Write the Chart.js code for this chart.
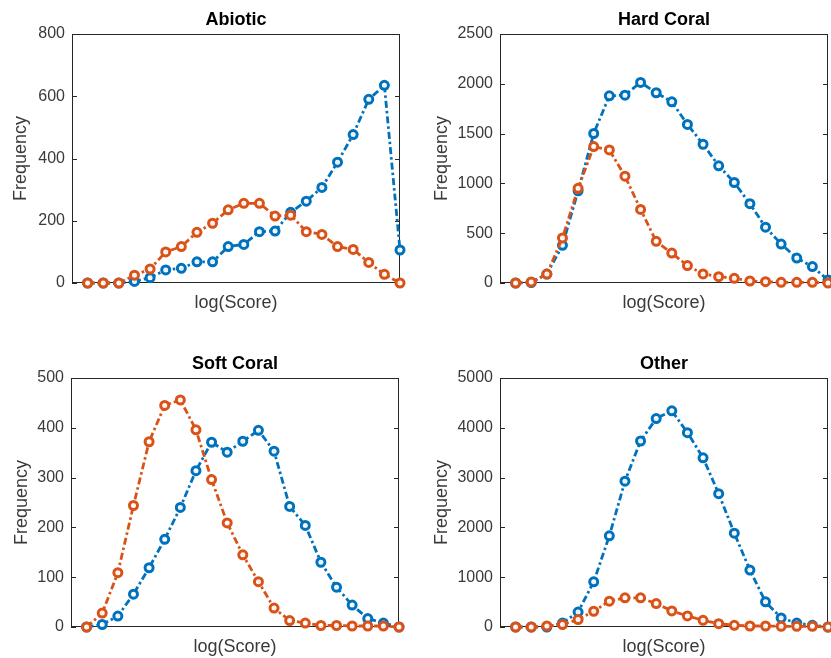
<!DOCTYPE html>
<html>
<head>
<meta charset="utf-8">
<script src="https://cdn.jsdelivr.net/npm/chart.js@4/dist/chart.umd.min.js"></script>
<style>
  html, body { margin: 0; padding: 0; background: #fff; overflow: hidden; width: 831px; height: 658px; }
  .panel { position: absolute; width: 416px; height: 329px; }
</style>
</head>
<body>
<div class="panel" style="left:0px;top:0px"><canvas id="abiotic"></canvas></div>
<div class="panel" style="left:428px;top:0px"><canvas id="hardCoral"></canvas></div>
<div class="panel" style="left:-1px;top:344px"><canvas id="softCoral"></canvas></div>
<div class="panel" style="left:428px;top:344px"><canvas id="other"></canvas></div>
<script>
// histogram bins (log score), shared by all panels
const bins = [0, 1, 2, 3, 4, 5, 6, 7, 8, 9, 10, 11, 12, 13, 14, 15, 16, 17, 18, 19, 20];

const abioticBlue = [0, 0, 0, 5, 17, 42, 47, 68, 68, 117, 124, 165, 167, 227, 263, 307, 388, 477, 590, 635, 106];
const abioticOrange = [0, 0, 0, 25, 45, 100, 117, 163, 192, 235, 256, 256, 215, 218, 165, 156, 117, 108, 66, 28, 0];

const hardBlue = [0, 5, 90, 378, 925, 1501, 1879, 1886, 2014, 1910, 1819, 1592, 1393, 1177, 1009, 796, 560, 391, 250, 165, 30];
const hardOrange = [0, 10, 90, 452, 951, 1370, 1336, 1073, 739, 418, 300, 175, 91, 64, 47, 20, 13, 7, 7, 7, 0];

const softBlue = [0, 5, 22, 66, 119, 176, 240, 314, 371, 351, 373, 395, 353, 242, 204, 130, 80, 44, 17, 8, 0];
const softOrange = [0, 28, 109, 244, 372, 445, 456, 396, 296, 209, 145, 91, 38, 13, 8, 3, 3, 2, 2, 2, 0];

const otherBlue = [0, 0, 0, 80, 300, 908, 1830, 2927, 3735, 4186, 4340, 3903, 3398, 2678, 1884, 1144, 505, 182, 80, 34, 0];
const otherOrange = [0, 0, 20, 50, 150, 316, 518, 585, 585, 471, 323, 222, 135, 67, 34, 20, 20, 13, 13, 13, 0];

const BLUE = 'rgb(0, 114, 189)';
const ORANGE = 'rgb(217, 83, 25)';
const AXIS = '#262626';
const LABEL = '#3a3a3a';
const FONT = 'Liberation Sans, Arial, sans-serif';

// matlab style box with inward y ticks on both sides, title centred on the axes
const framePlugin = {
    id: 'frame',
    beforeDatasetsDraw(chart, args, opts) {
        const { ctx, chartArea: a } = chart;
        const y = chart.scales.y;
        ctx.save();
        ctx.strokeStyle = AXIS;
        ctx.lineWidth = 1;
        ctx.strokeRect(a.left + 0.5, a.top + 0.5, a.right - a.left - 1, a.bottom - a.top - 1);
        ctx.beginPath();
        y.ticks.forEach((t) => {
            const py = Math.round(y.getPixelForValue(t.value)) + 0.5;
            ctx.moveTo(a.left, py);
            ctx.lineTo(a.left + 5, py);
            ctx.moveTo(a.right - 5, py);
            ctx.lineTo(a.right, py);
        });
        ctx.stroke();

        ctx.fillStyle = '#000';
        ctx.font = 'bold 18px ' + FONT;
        ctx.textAlign = 'center';
        ctx.textBaseline = 'middle';
        ctx.fillText(opts.title, (a.left + a.right) / 2, a.top - 14);
        ctx.restore();
    },
};

function series(values, color, order) {
    return {
        data: values,
        borderColor: color,
        backgroundColor: color,
        borderWidth: 2.8,
        borderDash: [7, 3, 2.5, 3],
        borderCapStyle: 'butt',
        pointRadius: 4,
        pointBorderWidth: 3,
        pointBackgroundColor: 'rgba(255,255,255,0.9)',
        pointBorderColor: color,
        tension: 0,
        clip: false,
        order: order,
    };
}

function makePanel(id, title, blue, orange, yMax, yStep, yTitlePad) {
    new Chart(document.getElementById(id), {
        type: 'line',
        data: {
            labels: bins,
            datasets: [series(blue, BLUE, 1), series(orange, ORANGE, 0)],
        },
        options: {
            responsive: false,
            animation: false,
            layout: { padding: { left: 0, right: 16, top: 34, bottom: 0 } },
            plugins: {
                legend: { display: false },
                tooltip: { enabled: false },
                title: { display: false },
                frame: { title: title },
            },
            scales: {
                x: {
                    type: 'linear',
                    min: -1,
                    max: 20,
                    ticks: { display: false },
                    grid: { display: false, drawTicks: false },
                    border: { display: false },
                    title: {
                        display: true,
                        text: 'log(Score)',
                        color: LABEL,
                        font: { family: FONT, size: 18 },
                        padding: { top: 0, bottom: 15 },
                    },
                    afterFit: (scale) => { scale.height = 46; },
                },
                y: {
                    min: 0,
                    max: yMax,
                    ticks: {
                        stepSize: yStep,
                        color: LABEL,
                        padding: 7,
                        font: { family: FONT, size: 16 },
                        callback: (v) => String(v),
                    },
                    grid: { display: false, drawTicks: false },
                    border: { display: false },
                    title: {
                        display: true,
                        text: 'Frequency',
                        color: LABEL,
                        font: { family: FONT, size: 18 },
                        padding: { top: yTitlePad, bottom: 0 },
                    },
                    afterFit: (scale) => { scale.width = 72; },
                },
            },
        },
        plugins: [framePlugin],
    });
}

document.querySelectorAll('canvas').forEach((c) => { c.width = 416; c.height = 329; });

makePanel('abiotic', 'Abiotic', abioticBlue, abioticOrange, 800, 200, 10);
makePanel('hardCoral', 'Hard Coral', hardBlue, hardOrange, 2500, 500, 3);
makePanel('softCoral', 'Soft Coral', softBlue, softOrange, 500, 100, 12);
makePanel('other', 'Other', otherBlue, otherOrange, 5000, 1000, 3);
</script>
</body>
</html>
